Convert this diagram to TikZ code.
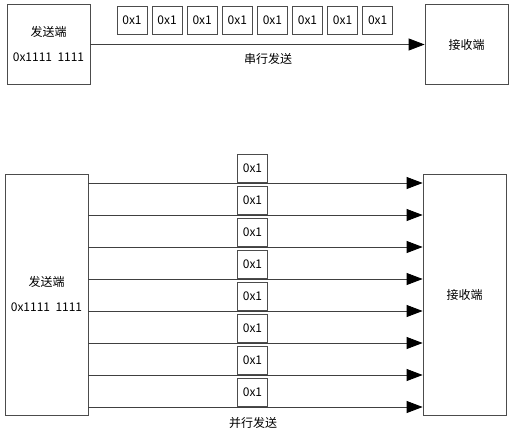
\documentclass[tikz,border=0pt]{standalone}
\usepackage{fontspec}
\setmainfont{Noto Sans CJK SC}
\usetikzlibrary{arrows.meta, positioning, calc}

\tikzset{
    endbox/.style={draw=black!70, line width=0.8pt, minimum width=83pt, align=center, inner sep=0pt},
    bitbox/.style={draw=black!70, line width=0.8pt, fill=white, minimum width=30pt, minimum height=28pt, inner sep=0pt},
    wire/.style={black!75, line width=0.8pt, -{Triangle[length=16pt, width=12pt, color=black]}},
}

\begin{document}
\begin{tikzpicture}[x=1pt, y=-1pt, font=\fontsize{12}{14}\selectfont]
    \useasboundingbox (0,0) rectangle (518,436);

    % Serial transmission
    \node[endbox, minimum height=80pt] (sendA) at (48.5,44.5) {发送端\\[11pt]0x1111\ \ 1111};
    \node[endbox, minimum height=80pt] (recvA) at (466.5,44.5) {接收端};
    \draw[wire] (sendA.east) -- (recvA.west);
    \foreach \i in {0,...,7}
        \node[bitbox] (sbit\i) at (132+35.1*\i,20) {0x1};
    \node (serlabel) at (268,59) {串行发送};

    % Parallel transmission
    \node[endbox, minimum height=241pt] (sendB) at (46.5,294.5) {发送端\\[11pt]0x1111\ \ 1111};
    \node[endbox, minimum height=241pt] (recvB) at (464.5,294.5) {接收端};
    \foreach \i in {0,...,7} {
        \node[bitbox, anchor=south] (pbit\i) at (252.5,183+32*\i) {0x1};
        \draw[wire] (sendB.east |- pbit\i.south) -- (recvB.west |- pbit\i.south);
    }
    \node (parlabel) at (253,423) {并行发送};
\end{tikzpicture}
\end{document}
